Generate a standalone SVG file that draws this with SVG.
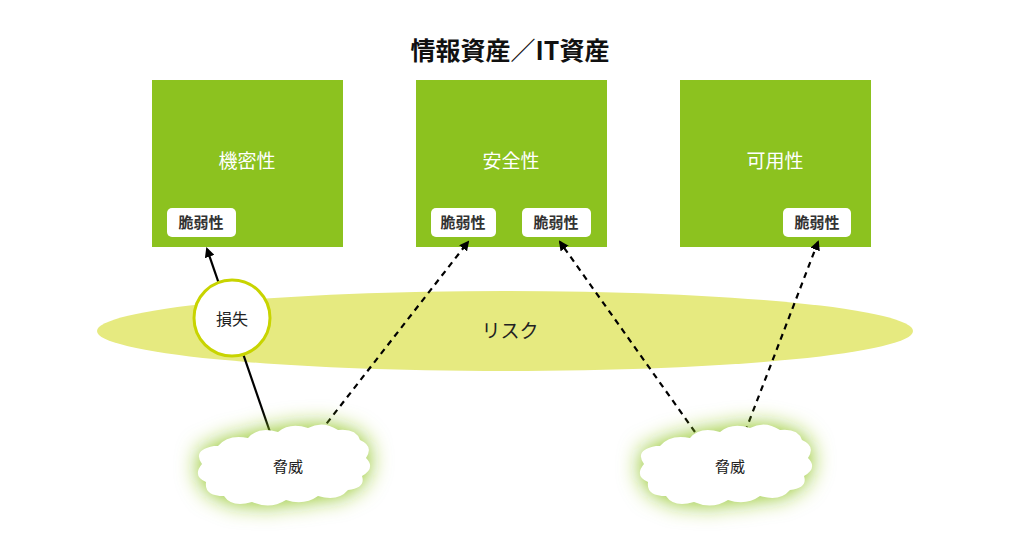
<svg xmlns="http://www.w3.org/2000/svg" width="1030" height="534" viewBox="0 0 1030 534">
<style>
text{font-family:"Noto Sans CJK JP","Noto Sans",sans-serif;text-anchor:middle}
.box{fill:#8cc21f}
.t{fill:#fff;font-size:19px}
.pill{fill:#fff}
.pt{fill:#333;font-size:15px;font-weight:bold}
.c{stroke:#000;stroke-width:2.2;fill:none}
.d{stroke-dasharray:6 5}
</style>
<defs>
<marker id="ah" markerWidth="10" markerHeight="10" refX="8" refY="5" orient="auto" markerUnits="userSpaceOnUse"><path d="M0,0 L10,5 L0,10 z" fill="#000"/></marker>
<filter id="glow" x="-40%" y="-80%" width="180%" height="260%"><feGaussianBlur stdDeviation="11"/></filter>
<path id="cloud" d="M-70,-20 q10,-12 30,-8 q10,-12 30,-6 q12,-10 30,-4 q15,-8 30,2 q18,-2 22,10 q14,6 6,18 q10,10 -4,18 q4,12 -14,14 q-10,12 -30,6 q-14,10 -32,4 q-16,10 -34,2 q-20,6 -28,-6 q-20,0 -18,-14 q-14,-6 -4,-18 q-10,-14 12,-18 z"/>
</defs>
<rect width="1030" height="534" fill="#fff"/>
<text x="510" y="60" style="font-size:25px;font-weight:bold;fill:#111">情報資産／IT資産</text>
<g id="risk"><ellipse cx="505" cy="331" rx="408" ry="40" fill="#e6ea80"/><text x="510" y="338" style="font-size:19px;fill:#222">リスク</text></g>
<g id="confidentiality"><rect class="box" x="152" y="80" width="191" height="167"/><text class="t" x="247" y="168">機密性</text>
<rect class="pill" x="167" y="208" width="69" height="29" rx="5"/><text class="pt" x="201" y="228">脆弱性</text></g>
<g id="integrity"><rect class="box" x="416" y="80" width="191" height="167"/><text class="t" x="511" y="168">安全性</text>
<rect class="pill" x="431" y="208" width="65" height="29" rx="5"/><text class="pt" x="463" y="228">脆弱性</text>
<rect class="pill" x="522" y="208" width="69" height="29" rx="5"/><text class="pt" x="556" y="228">脆弱性</text></g>
<g id="availability"><rect class="box" x="680" y="80" width="191" height="167"/><text class="t" x="775" y="168">可用性</text>
<rect class="pill" x="783" y="208" width="68" height="29" rx="5"/><text class="pt" x="817" y="228">脆弱性</text></g>
<g id="connectors">
<line class="c" x1="270" y1="432" x2="207" y2="249" marker-end="url(#ah)"/>
<line class="c d" x1="320" y1="432" x2="468" y2="242" marker-end="url(#ah)"/>
<line class="c d" x1="695" y1="432" x2="560" y2="242" marker-end="url(#ah)"/>
<line class="c d" x1="745" y1="432" x2="818" y2="242" marker-end="url(#ah)"/>
</g>
<g id="loss"><circle cx="232" cy="318" r="38" fill="#fff" stroke="#c8d400" stroke-width="3"/><text x="232" y="325" style="font-size:16px;fill:#222">損失</text></g>
<g id="threat1" transform="translate(288,466)"><use href="#cloud" fill="#8cc21f" filter="url(#glow)"/><use href="#cloud" fill="#fff"/><text x="0" y="6" style="font-size:15px;fill:#222">脅威</text></g>
<g id="threat2" transform="translate(730,466)"><use href="#cloud" fill="#8cc21f" filter="url(#glow)"/><use href="#cloud" fill="#fff"/><text x="0" y="6" style="font-size:15px;fill:#222">脅威</text></g>
</svg>
